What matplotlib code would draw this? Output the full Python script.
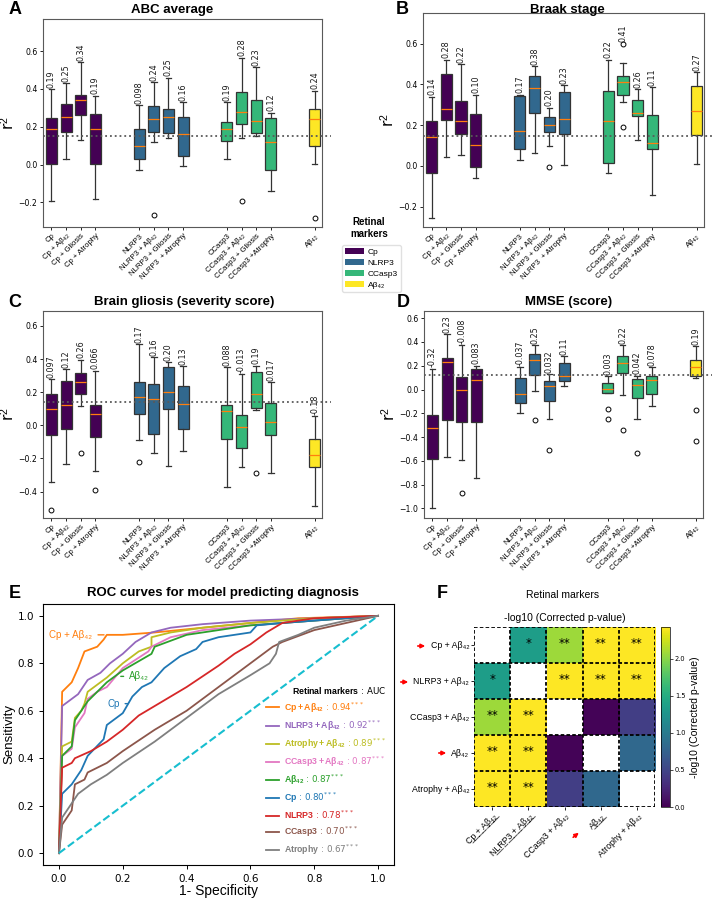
import numpy as np
import matplotlib
matplotlib.use('Agg')
import matplotlib.pyplot as plt
from matplotlib.patches import Patch, FancyArrowPatch

plt.rcParams['mathtext.fontset'] = 'custom'
plt.rcParams['mathtext.rm'] = 'Liberation Sans'
plt.rcParams['mathtext.it'] = 'Liberation Sans:italic'
plt.rcParams['mathtext.bf'] = 'Liberation Sans:bold'
plt.rcParams['mathtext.sf'] = 'DejaVu Sans'
SANS = ['Liberation Sans', 'DejaVu Sans']

# ---------------- data: boxplots (r2 of models) ----------------
box_names = ["Cp", "Cp + Aβ₄₂", "Cp + Gliosis", "Cp + Atrophy",
             "NLRP3", "NLRP3 + Aβ₄₂", "NLRP3 + Gliosis", "NLRP3  + Atrophy",
             "CCasp3", "CCasp3 + Aβ₄₂", "CCasp3 + Gliosis", "CCasp3 +Atrophy",
             "Aβ₄₂"]
box_pos = [0, 1, 2, 3, 6, 7, 8, 9, 12, 13, 14, 15, 18]
box_group = [0, 0, 0, 0, 1, 1, 1, 1, 2, 2, 2, 2, 3]
marker_names = ["Cp", "NLRP3", "CCasp3", "Aβ₄₂"]
marker_colors = ["#440154", "#31688e", "#35b779", "#fde725"]

# A - ABC average
abc_lo = [-0.19, 0.03, 0.13, -0.18, -0.03, 0.12, 0.14, -0.01, 0.03, 0.14, 0.15, -0.14, 0.005]
abc_q1 = [0.005, 0.17, 0.26, 0.005, 0.03, 0.17, 0.165, 0.045, 0.125, 0.215, 0.165, -0.03, 0.10]
abc_med = [0.19, 0.25, 0.34, 0.19, 0.098, 0.24, 0.25, 0.16, 0.19, 0.28, 0.23, 0.12, 0.24]
abc_q3 = [0.245, 0.32, 0.37, 0.27, 0.19, 0.31, 0.295, 0.25, 0.225, 0.385, 0.34, 0.245, 0.295]
abc_hi = [0.40, 0.43, 0.54, 0.365, 0.315, 0.435, 0.46, 0.33, 0.33, 0.565, 0.515, 0.275, 0.39]
abc_fl = [[], [], [], [], [], [-0.265], [], [], [], [-0.19], [], [], [-0.285]]
abc_ref = 0.15

# B - Braak stage
braak_lo = [-0.255, 0.045, 0.055, -0.06, 0.03, 0.065, 0.095, 0.005, -0.035, 0.315, 0.125, -0.145, 0.01]
braak_q1 = [-0.035, 0.225, 0.155, -0.005, 0.085, 0.26, 0.165, 0.155, 0.015, 0.35, 0.245, 0.085, 0.15]
braak_med = [0.14, 0.28, 0.22, 0.10, 0.17, 0.38, 0.20, 0.23, 0.22, 0.41, 0.26, 0.11, 0.27]
braak_q3 = [0.22, 0.45, 0.32, 0.255, 0.345, 0.44, 0.24, 0.36, 0.365, 0.44, 0.325, 0.25, 0.39]
braak_hi = [0.34, 0.52, 0.50, 0.35, 0.35, 0.49, 0.285, 0.395, 0.52, 0.505, 0.375, 0.385, 0.46]
braak_fl = [[], [], [], [], [], [], [-0.005], [], [], [0.60, 0.19], [], [], []]
braak_ref = 0.145

# C - Brain gliosis
gli_lo = [-0.34, -0.235, 0.115, -0.275, -0.09, -0.165, -0.245, -0.155, -0.37, -0.255, 0.09, -0.29, -0.49]
gli_q1 = [-0.06, -0.02, 0.19, -0.07, 0.07, -0.05, 0.10, -0.025, -0.085, -0.14, 0.105, -0.06, -0.25]
gli_med = [0.097, 0.12, 0.26, 0.066, 0.17, 0.16, 0.20, 0.13, 0.088, -0.013, 0.19, 0.017, -0.18]
gli_q3 = [0.19, 0.265, 0.315, 0.125, 0.26, 0.25, 0.35, 0.24, 0.125, 0.06, 0.32, 0.135, -0.085]
gli_hi = [0.28, 0.34, 0.395, 0.33, 0.49, 0.41, 0.38, 0.355, 0.35, 0.31, 0.36, 0.26, 0.055]
gli_fl = [[-0.51], [], [-0.165], [-0.39], [-0.22], [], [], [], [], [], [-0.29], [], []]
gli_ref = 0.14

# D - MMSE
mmse_lo = [-1.0, -0.565, -0.59, -0.745, -0.2, -0.01, -0.245, 0.03, -0.03, -0.05, -0.245, -0.14, 0.10]
mmse_q1 = [-0.58, -0.26, -0.27, -0.275, -0.11, 0.12, -0.10, 0.075, -0.03, 0.14, -0.075, -0.04, 0.11]
mmse_med = [-0.32, 0.23, -0.008, 0.083, -0.037, 0.25, 0.032, 0.11, 0.003, 0.22, 0.042, 0.078, 0.19]
mmse_q3 = [-0.21, 0.265, 0.105, 0.17, 0.095, 0.30, 0.07, 0.225, 0.055, 0.28, 0.09, 0.11, 0.25]
mmse_hi = [0.175, 0.465, 0.375, 0.2, 0.19, 0.375, 0.13, 0.28, 0.11, 0.375, 0.115, 0.19, 0.365]
mmse_fl = [[], [], [-0.87], [], [], [-0.26], [-0.51], [], [-0.16, -0.25], [-0.34], [-0.535], [], [-0.175, -0.435]]
mmse_ref = 0.12

# ---------------- data: ROC curves ----------------
roc_names = ["Cp + Aβ₄₂", "NLRP3 + Aβ₄₂", "Atrophy + Aβ₄₂", "CCasp3 + Aβ₄₂", "Aβ₄₂",
             "Cp", "NLRP3", "CCasp3", "Atrophy"]
roc_auc = [0.94, 0.92, 0.89, 0.87, 0.87, 0.80, 0.78, 0.70, 0.67]
roc_colors = ["#ff7f0e", "#9467bd", "#bcbd22", "#e377c2", "#2ca02c",
              "#1f77b4", "#d62728", "#8c564b", "#7f7f7f"]
roc_fpr = [
    [0, 0.01, 0.04, 0.06, 0.08, 0.10, 0.12, 0.14, 0.15, 0.20, 0.30, 0.45, 0.60, 0.75, 1.0],
    [0, 0.01, 0.02, 0.04, 0.06, 0.09, 0.13, 0.16, 0.20, 0.24, 0.29, 0.35, 0.45, 0.60, 0.80, 1.0],
    [0, 0.01, 0.04, 0.05, 0.07, 0.08, 0.09, 0.15, 0.20, 0.25, 0.29, 0.29, 0.35, 0.45, 0.60, 0.80, 1.0],
    [0, 0.01, 0.04, 0.05, 0.08, 0.09, 0.12, 0.15, 0.20, 0.28, 0.29, 0.35, 0.45, 0.60, 0.80, 1.0],
    [0, 0.01, 0.04, 0.05, 0.09, 0.15, 0.20, 0.29, 0.30, 0.40, 0.50, 0.60, 0.80, 1.0],
    [0, 0.01, 0.04, 0.07, 0.09, 0.14, 0.15, 0.20, 0.23, 0.26, 0.29, 0.33, 0.38, 0.43, 0.45,
     0.50, 0.60, 0.62, 0.70, 0.80, 1.0],
    [0, 0.01, 0.04, 0.05, 0.10, 0.15, 0.20, 0.25, 0.30, 0.40, 0.50, 0.55, 0.60, 0.65, 0.70, 0.80, 1.0],
    [0, 0.01, 0.04, 0.05, 0.08, 0.09, 0.15, 0.20, 0.30, 0.40, 0.50, 0.60, 0.67, 0.70, 0.80, 0.90, 1.0],
    [0, 0.01, 0.04, 0.06, 0.10, 0.15, 0.20, 0.30, 0.40, 0.50, 0.60, 0.66, 0.68, 0.69, 0.75, 0.80, 0.90, 1.0],
]
roc_tpr = [
    [0, 0.68, 0.72, 0.78, 0.85, 0.86, 0.87, 0.90, 0.92, 0.92, 0.93, 0.95, 0.97, 0.99, 1.0],
    [0, 0.62, 0.63, 0.65, 0.67, 0.73, 0.76, 0.80, 0.84, 0.89, 0.93, 0.95, 0.965, 0.98, 0.99, 1.0],
    [0, 0.45, 0.47, 0.57, 0.60, 0.63, 0.68, 0.74, 0.80, 0.85, 0.87, 0.91, 0.93, 0.95, 0.97, 0.99, 1.0],
    [0, 0.41, 0.44, 0.53, 0.59, 0.65, 0.68, 0.70, 0.78, 0.85, 0.87, 0.91, 0.94, 0.96, 0.98, 1.0],
    [0, 0.41, 0.45, 0.56, 0.64, 0.72, 0.77, 0.84, 0.87, 0.92, 0.94, 0.96, 0.98, 1.0],
    [0, 0.25, 0.29, 0.35, 0.41, 0.48, 0.54, 0.59, 0.66, 0.70, 0.72, 0.78, 0.83, 0.86, 0.89,
     0.91, 0.93, 0.96, 0.97, 0.98, 1.0],
    [0, 0.36, 0.38, 0.40, 0.43, 0.47, 0.52, 0.58, 0.62, 0.70, 0.79, 0.84, 0.88, 0.93, 0.97, 0.99, 1.0],
    [0, 0.12, 0.18, 0.29, 0.31, 0.34, 0.38, 0.43, 0.52, 0.60, 0.70, 0.80, 0.87, 0.89, 0.94, 0.97, 1.0],
    [0, 0.15, 0.21, 0.25, 0.29, 0.33, 0.38, 0.47, 0.57, 0.67, 0.75, 0.80, 0.84, 0.89, 0.92, 0.95, 0.98, 1.0],
]

# ---------------- data: pairwise comparison heatmap ----------------
hm_names = ["Cp + Aβ₄₂", "NLRP3 + Aβ₄₂", "CCasp3 + Aβ₄₂", "Aβ₄₂", "Atrophy + Aβ₄₂"]
hm_underline = [True, True, False, True, False]
nan = np.nan
hm_vals = np.array([
    [nan, 1.35, 2.07, 2.43, 2.43],
    [1.35, nan, 2.43, 2.43, 2.43],
    [2.07, 2.43, nan, 0.02, 0.45],
    [2.43, 2.43, 0.02, nan, 0.82],
    [2.43, 2.43, 0.45, 0.82, nan],
])
hm_stars = [["", "*", "**", "**", "**"],
            ["*", "", "**", "**", "**"],
            ["**", "**", "", "", ""],
            ["**", "**", "", "", ""],
            ["**", "**", "", "", ""]]

# ---------------- layout helpers ----------------
W, H = 715, 899


def rect(l, t, r, b):
    return [l / W, 1 - b / H, (r - l) / W, (b - t) / H]


def fx(x):
    return x / W


def fy(y):
    return 1 - y / H


def fmt(v):
    return f"{v:.2f}" if abs(v) >= 0.1 else f"{v:.2g}"


fig = plt.figure(figsize=(7.15, 8.99), dpi=100)


def box_panel(ax, lo, q1, med, q3, hi, fl, ref, ylim, yticks):
    stats = [dict(whislo=a, q1=b, med=c, q3=d, whishi=e, fliers=f)
             for a, b, c, d, e, f in zip(lo, q1, med, q3, hi, fl)]
    bp = ax.bxp(stats, positions=box_pos, widths=0.75, patch_artist=True,
                boxprops=dict(edgecolor='0.2', linewidth=0.9),
                whiskerprops=dict(color='0.2', linewidth=0.9),
                capprops=dict(color='0.2', linewidth=0.9),
                medianprops=dict(color='#ff7f0e', linewidth=0.9),
                flierprops=dict(marker='o', markerfacecolor='none',
                                markeredgecolor='k', markersize=3.5, markeredgewidth=0.7))
    for patch, g in zip(bp['boxes'], box_group):
        patch.set_facecolor(marker_colors[g])
    # reference line runs a little past the right spine
    ax.axhline(ref, xmin=0, xmax=1.032, color='0.35', ls=':', lw=1.3, zorder=5,
               clip_on=False)
    for p, m, h, f in zip(box_pos, med, hi, fl):
        top = max([h] + f)
        ax.annotate(fmt(m), xy=(p, top), xytext=(0, 1), textcoords='offset points',
                    rotation=90, ha='center', va='bottom', fontsize=5.8, color='0.1')
    ax.set_xlim(-0.58, 18.5)
    ax.set_ylim(*ylim)
    ax.set_yticks(yticks)
    ax.set_xticks(box_pos)
    ax.set_xticklabels(box_names, rotation=45, ha='right', rotation_mode='anchor',
                       fontsize=5.6, family=SANS)
    ax.tick_params(labelsize=5.6, length=2.5, width=0.6, pad=1.5)
    ax.set_ylabel('r$^2$', fontsize=11, labelpad=1)
    for s in ax.spines.values():
        s.set_color('0.35')


axA = fig.add_axes(rect(43, 19, 322, 227))
box_panel(axA, abc_lo, abc_q1, abc_med, abc_q3, abc_hi, abc_fl, abc_ref,
          (-0.33, 0.77), [-0.2, 0.0, 0.2, 0.4, 0.6])
axB = fig.add_axes(rect(423, 13, 704, 227))
box_panel(axB, braak_lo, braak_q1, braak_med, braak_q3, braak_hi, braak_fl, braak_ref,
          (-0.30, 0.75), [-0.2, 0.0, 0.2, 0.4, 0.6])
axC = fig.add_axes(rect(43, 311, 322, 518))
box_panel(axC, gli_lo, gli_q1, gli_med, gli_q3, gli_hi, gli_fl, gli_ref,
          (-0.56, 0.69), [-0.4, -0.2, 0.0, 0.2, 0.4, 0.6])
axD = fig.add_axes(rect(424, 311, 703, 518))
box_panel(axD, mmse_lo, mmse_q1, mmse_med, mmse_q3, mmse_hi, mmse_fl, mmse_ref,
          (-1.08, 0.66), [-1.0, -0.8, -0.6, -0.4, -0.2, 0.0, 0.2, 0.4, 0.6])

# titles and panel letters
for txt, x, y in [("ABC average", 172, 10), ("Braak stage", 567, 10),
                  ("Brain gliosis (severity score)", 184, 302), ("MMSE (score)", 569, 302),
                  ("ROC curves for model predicting diagnosis", 223, 593)]:
    fig.text(fx(x), fy(y), txt, ha='center', va='center', fontsize=9.5,
             fontweight='bold', family=SANS)
for txt, x, y in [("A", 9, 10), ("B", 396, 9), ("C", 8, 302), ("D", 397, 302),
                  ("E", 9, 593), ("F", 437, 594)]:
    fig.text(fx(x), fy(y), txt, ha='left', va='center', fontsize=13,
             fontweight='bold', family=SANS)

# shared marker legend
fig.text(fx(369), fy(228), "Retinal\nmarkers", ha='center', va='center', fontsize=7,
         fontweight='bold', family=SANS, linespacing=1.2)
handles = [Patch(facecolor=c, edgecolor='none') for c in marker_colors]
fig.legend(handles, marker_names, loc='upper left', bbox_to_anchor=(fx(338), fy(241)),
           prop={'family': SANS, 'size': 6}, handlelength=2.3, handleheight=0.8,
           labelspacing=0.35, handletextpad=0.4, borderpad=0.35, frameon=True,
           edgecolor='0.85', fancybox=True)

# ---------------- E: ROC ----------------
axE = fig.add_axes(rect(43, 604, 394, 865))
lines = []
for fp, tp, c in zip(roc_fpr, roc_tpr, roc_colors):
    ln, = axE.plot(fp, tp, color=c, lw=1.3)
    lines.append(ln)
axE.plot([0, 1], [0, 1], color='#17becf', ls='--', lw=1.5)
axE.set_xticks([0, 0.2, 0.4, 0.6, 0.8, 1.0])
axE.set_yticks([0, 0.2, 0.4, 0.6, 0.8, 1.0])
axE.tick_params(labelsize=7.5, length=3, width=0.7)
axE.set_xlabel("1- Specificity", fontsize=10, family=SANS, labelpad=0)
axE.set_ylabel("Sensitivity", fontsize=9.5, family=SANS)
axE.yaxis.set_label_coords(-0.078, 0.5)
axE.annotate("Cp + Aβ₄₂", xy=(0.15, 0.92), xytext=(0.105, 0.92), ha='right', va='center',
             color=roc_colors[0], fontsize=7, family=SANS,
             arrowprops=dict(arrowstyle='-', color=roc_colors[0], lw=1))
axE.annotate("Aβ₄₂", xy=(0.185, 0.745), xytext=(0.22, 0.745), ha='left', va='center',
             color=roc_colors[4], fontsize=7, family=SANS,
             arrowprops=dict(arrowstyle='-', color=roc_colors[4], lw=1))
axE.annotate("Cp", xy=(0.225, 0.63), xytext=(0.19, 0.63), ha='right', va='center',
             color=roc_colors[5], fontsize=7, family=SANS,
             arrowprops=dict(arrowstyle='-', color=roc_colors[5], lw=1))


def tex_name(n):
    return n.replace(' + ', '+').replace('Aβ₄₂', r'A\beta_{42}')


labels = [r"$\mathbf{" + tex_name(n) + r"}$ : " + f"{a:.2f}" + r"$^{\mathsf{***}}$"
          for n, a in zip(roc_names, roc_auc)]
leg = axE.legend(lines, labels, loc='lower right', bbox_to_anchor=(1.0, 0.0),
                 title=r"$\mathbf{Retinal\ markers}$ : AUC", alignment='right',
                 prop={'size': 6.3}, title_fontproperties={'size': 6.3},
                 frameon=False, handlelength=1.5, handletextpad=0.5, labelspacing=0.42)
for t, c in zip(leg.get_texts(), roc_colors):
    t.set_color(c)

# ---------------- F: heatmap ----------------
axF = fig.add_axes(rect(474, 627, 655, 807))
cmap = plt.get_cmap('viridis').copy()
cmap.set_bad('white')
im = axF.imshow(np.ma.masked_invalid(hm_vals), cmap=cmap, vmin=0, vmax=2.43, aspect='auto')
n = len(hm_names)
for k in range(n + 1):
    axF.axhline(k - 0.5, color='k', ls=(0, (2, 1.2)), lw=1.3)
    axF.axvline(k - 0.5, color='k', ls=(0, (2, 1.2)), lw=1.3)
for i in range(n):
    for j in range(n):
        if hm_stars[i][j]:
            axF.text(j, i - 0.05, hm_stars[i][j], ha='center', va='center', fontsize=8.5)
for s in axF.spines.values():
    s.set_visible(False)
axF.set_xticks(range(n))
axF.set_yticks(range(n))


def underline(s):
    return ''.join(ch + '\u0332' for ch in s)


xl = [underline(nm) if u else nm for nm, u in zip(hm_names, hm_underline)]
axF.set_xticklabels(xl, rotation=45, ha='right', rotation_mode='anchor', fontsize=6.3,
                    family=SANS)
axF.set_yticklabels(hm_names, fontsize=6.3, family=SANS)
axF.tick_params(length=2, width=0.6, pad=1.5)
axF.set_title("-log10 (Corrected p-value)", fontsize=7.5, family=SANS, pad=4)
fig.text(fx(563), fy(595), "Retinal markers", ha='center', va='center', fontsize=7.5,
         family=SANS)

cax = fig.add_axes(rect(661, 627, 670, 807))
cb = fig.colorbar(im, cax=cax)
cb.set_ticks([0, 0.5, 1.0, 1.5, 2.0])
cb.ax.tick_params(labelsize=4.8, length=2, width=0.5, pad=1.5)
cb.set_label("-log10 (Corrected p-value)", fontsize=7.5, family=SANS, labelpad=3)
cb.outline.set_linewidth(0.5)

# red arrows marking best single/combined markers
for (x0, y0), (x1, y1) in [((415, 646), (428, 646)), ((398, 682), (411, 682)),
                           ((436, 753), (449, 753)), ((571, 839), (581, 831))]:
    fig.add_artist(FancyArrowPatch(
        (fx(x0), fy(y0)), (fx(x1), fy(y1)), transform=fig.transFigure,
        arrowstyle='-|>', mutation_scale=6, color='red', lw=1.2))

fig.savefig('out.png', dpi=100)
